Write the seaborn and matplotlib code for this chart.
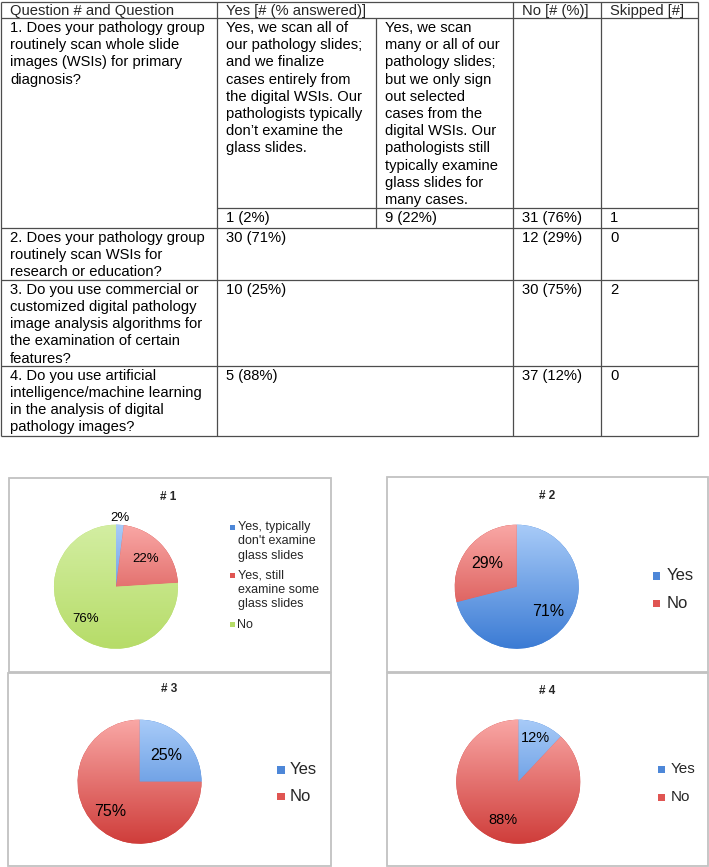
import numpy as np
import matplotlib
matplotlib.use("Agg")
import matplotlib.pyplot as plt
import seaborn as sns
from matplotlib.colors import LinearSegmentedColormap
from matplotlib.patches import Rectangle

# ---- table contents ----
header = ["Question # and Question", "Yes [# (% answered)]", "No [# (%)]", "Skipped [#]"]

questions = [
    ["1. Does your pathology group", "routinely scan whole slide",
     "images (WSIs) for primary", "diagnosis?"],
    ["2. Does your pathology group", "routinely scan WSIs for",
     "research or education?"],
    ["3. Do you use commercial or", "customized digital pathology",
     "image analysis algorithms for", "the examination of certain", "features?"],
    ["4. Do you use artificial", "intelligence/machine learning",
     "in the analysis of digital", "pathology images?"],
]

q1_yes_a = ["Yes, we scan all of", "our pathology slides;", "and we finalize",
            "cases entirely from", "the digital WSIs. Our", "pathologists typically",
            "don\u2019t examine the", "glass slides."]
q1_yes_b = ["Yes, we scan", "many or all of our", "pathology slides;",
            "but we only sign", "out selected", "cases from the",
            "digital WSIs. Our", "pathologists still", "typically examine",
            "glass slides for", "many cases."]
q1_counts = ["1 (2%)", "9 (22%)", "31 (76%)", "1"]

yes_counts = ["30 (71%)", "10 (25%)", "5 (88%)"]
no_counts = ["12 (29%)", "30 (75%)", "37 (12%)"]
skipped = ["0", "2", "0"]

# ---- pie contents ----
pie_titles = ["# 1", "# 2", "# 3", "# 4"]
pie1_labels = ["Yes, typically\ndon't examine\nglass slides",
               "Yes, still\nexamine some\nglass slides", "No"]
pie1_values = [2, 22, 76]
yes_no = ["Yes", "No"]
pie2_values = [71, 29]
pie3_values = [25, 75]
pie4_values = [12, 88]

# ---- style ----
W, H = 709, 867
sns.set_theme(style="white")
plt.rcParams["font.family"] = ["Liberation Sans", "DejaVu Sans"]

grad_blue = ("#a8cbf8", "#3b7bd4")
grad_red = ("#f9a7a5", "#cf3d3a")
grad_green = ("#d3eea2", "#b6dc68")
flat = {"blue": "#4d87d8", "red": "#e05552", "green": "#b6dd68"}

fig = plt.figure(figsize=(W / 100, H / 100), dpi=100)
bg = fig.add_axes([0, 0, 1, 1])
bg.set_xlim(0, W)
bg.set_ylim(H, 0)
bg.axis("off")

# ---- table ----
cols = [1, 217, 376, 513, 601, 698]
rows = [2, 18, 208, 228, 280, 366, 436]
step = 17.2
base = 13.8
pad = 9
fs_tab = 10.6
lc = "#4d4d4d"
lw_tab = 0.9


def cell(x, top, lines, off=base):
    for i, s in enumerate(lines):
        bg.text(x + pad, top + off + i * step, s, va="baseline", ha="left",
                fontsize=fs_tab, color="black")


for y in [rows[0], rows[1], rows[3], rows[4], rows[5], rows[6]]:
    bg.hlines(y, cols[0], cols[-1], color=lc, lw=lw_tab)
bg.hlines(rows[2], cols[1], cols[-1], color=lc, lw=lw_tab)
for x in [cols[0], cols[1], cols[3], cols[4], cols[5]]:
    bg.vlines(x, rows[0], rows[-1], color=lc, lw=lw_tab)
bg.vlines(cols[2], rows[1], rows[3], color=lc, lw=lw_tab)

for x, s in zip([cols[0], cols[1], cols[3], cols[4]], header):
    bg.text(x + pad, rows[0] + 12.8, s, va="baseline", ha="left", fontsize=fs_tab)

cell(cols[0], rows[1], questions[0], 14)
cell(cols[1], rows[1], q1_yes_a, 14)
cell(cols[2], rows[1], q1_yes_b, 14)
for x, s in zip(cols[1:5], q1_counts):
    cell(x, rows[2], [s])

for k in range(3):
    top = rows[3 + k]
    cell(cols[0], top, questions[k + 1])
    cell(cols[1], top, [yes_counts[k]])
    cell(cols[3], top, [no_counts[k]])
    cell(cols[4], top, [skipped[k]])

# ---- pie panels ----
panels = [(9, 478, 331, 672), (387, 477, 708, 672),
          (8, 673, 331, 866), (387, 673, 708, 866)]
for x0, y0, x1, y1 in panels:
    bg.add_patch(Rectangle((x0, y0), x1 - x0, y1 - y0, fill=False,
                           edgecolor="#c2c2c2", lw=1.3))

title_pos = [(168, 497), (547, 496), (169.5, 689.5), (547, 691)]
for (tx, ty), t in zip(title_pos, pie_titles):
    bg.text(tx, ty, t, ha="center", va="center", fontsize=8.5, fontweight="bold")

R = 62
grad = np.linspace(0, 1, 256).reshape(-1, 1)


def add_pie(cx, cy, values, grads, dists, fs):
    half = R * 1.3
    ax = fig.add_axes([(cx - half) / W, (H - cy - half) / H, 2 * half / W, 2 * half / H])
    wedges, _ = ax.pie(values, startangle=90, counterclock=False,
                       colors=[g[1] for g in grads], wedgeprops=dict(linewidth=0))
    for w, (c1, c2) in zip(wedges, grads):
        cmap = LinearSegmentedColormap.from_list("g", [c1, c2])
        im = ax.imshow(grad, extent=[-1, 1, -1, 1], cmap=cmap, aspect="auto",
                       zorder=w.get_zorder() + 0.1)
        im.set_clip_path(w)
    for w, v, d in zip(wedges, values, dists):
        th = np.deg2rad((w.theta1 + w.theta2) / 2)
        ax.text(d * np.cos(th), d * np.sin(th), f"{v}%", ha="center", va="center",
                fontsize=fs, color="black", zorder=5)
    ax.set_xlim(-1.3, 1.3)
    ax.set_ylim(-1.3, 1.3)
    ax.set_aspect("equal")
    ax.axis("off")
    return ax


add_pie(116, 586.7, pie1_values, [grad_blue, grad_red, grad_green], [1.11, 0.66, 0.72], 9.5)
add_pie(516.7, 586.7, pie2_values, [grad_blue, grad_red], [0.64, 0.61], 11.5)
add_pie(139.5, 781.7, pie3_values, [grad_blue, grad_red], [0.6, 0.67], 11.5)
add_pie(518.3, 781.7, pie4_values, [grad_blue, grad_red], [0.75, 0.66], 10.5)


def legend(mx, tx, y, labels, colors, fs, size, lstep, gap):
    for lab, c in zip(labels, colors):
        bg.add_patch(Rectangle((mx - size / 2, y - size / 2), size, size,
                               color=c, lw=0))
        parts = lab.split("\n")
        for j, p in enumerate(parts):
            bg.text(tx, y + j * lstep, p, ha="left", va="center", fontsize=fs)
        y += len(parts) * lstep + gap


legend(232, 237.5, 527, pie1_labels, [flat["blue"], flat["red"], flat["green"]],
       9, 5, 14.3, 6)
legend(656.5, 666.7, 576, yes_no, [flat["blue"], flat["red"]], 12, 7.5, 27.3, 0)
legend(281, 289.3, 770, yes_no, [flat["blue"], flat["red"]], 12, 7.5, 26.7, 0)
legend(661.5, 671, 769.3, yes_no, [flat["blue"], flat["red"]], 11, 7.5, 28, 0)

fig.savefig("out.png", dpi=100)
